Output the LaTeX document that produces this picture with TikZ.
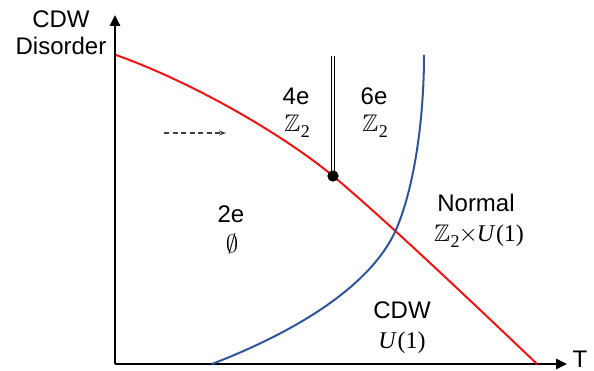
\documentclass[tikz,border=0pt]{standalone}
\usepackage{amssymb}
\usepackage{fontspec}
\setmainfont{Liberation Sans}
\newfontfamily\mathlike{Liberation Serif}
\usetikzlibrary{arrows.meta}
\definecolor{curvered}{RGB}{240,20,20}
\definecolor{curveblue}{RGB}{47,85,151}
\newcommand{\Uone}{{\mathlike\textit{U}\kern0.5pt(1)}}
\newcommand{\Ztwo}{$\mathbb{Z}$\kern0.5pt\raisebox{-6pt}{\fontsize{18}{18}\selectfont\mathlike 2}}
\begin{document}
\begin{tikzpicture}[x=1pt,y=-1pt,
  lbl/.style={anchor=base,inner sep=0pt,font=\fontsize{24}{28}\selectfont},
  axis/.style={line width=2.6pt,-{Triangle[length=11pt,width=10pt]}},
  phaseline/.style={line width=2pt,line join=round}]
\useasboundingbox (0,0) rectangle (594,371);
\coordinate (O) at (115,364);
\coordinate (ytip) at (115,15);
\coordinate (xtip) at (567,364);
\draw[axis] (O) -- (ytip);
\draw[axis] (O) -- (xtip);
\node[lbl,align=center] (ylab) at (61,55) {CDW\\[-0.5pt]Disorder};
\node[lbl] (xlab) at (580,367) {T};
% red curve
\coordinate (r0) at (116,55);
\coordinate (r2) at (537,364);
\draw[phaseline,curvered] (r0) .. controls (200,85) and (290,140) .. (333,176)
   .. controls (380,215) and (470,300) .. (r2);
% blue curve
\coordinate (b0) at (212,364);
\coordinate (b2) at (424,55);
\draw[phaseline,curveblue] (b0) .. controls (300,330) and (370,285) .. (395,232)
   .. controls (414,190) and (424,120) .. (b2);
% double line and dot
\node[circle,fill=black,inner sep=0pt,minimum size=11pt] (dot) at (333,176) {};
\coordinate (dtop) at (333,56);
\draw[black,line width=0.8pt,double=white,double distance=2.4pt] (dtop) -- (dot.center);
\node[circle,fill=black,inner sep=0pt,minimum size=11pt] at (333,176) {};
% dashed arrow
\coordinate (da) at (164,133);
\coordinate (db) at (226,133);
\draw[black!75,line width=1.1pt,dash pattern=on 5pt off 3.5pt,-{Stealth[length=7pt,width=5pt]}] (da) -- (db);
% labels
\node[lbl] (l4e) at (296,105) {4e};
\node[lbl] (l4z) at (297,132) {\Ztwo};
\node[lbl] (l6e) at (374,105) {6e};
\node[lbl] (l6z) at (375,132) {\Ztwo};
\node[lbl] (l2e) at (231,223) {2e};
\node[lbl] (l2z) at (232,253) {$\emptyset$};
\node[lbl] (ln) at (476,212) {Normal};
\node[lbl] (lnz) at (479,242) {\Ztwo\kern-1pt$\times$\kern-1pt\Uone};
\node[lbl] (lc) at (402,318) {CDW};
\node[lbl] (lcu) at (402,348) {\Uone};
\end{tikzpicture}
\end{document}
